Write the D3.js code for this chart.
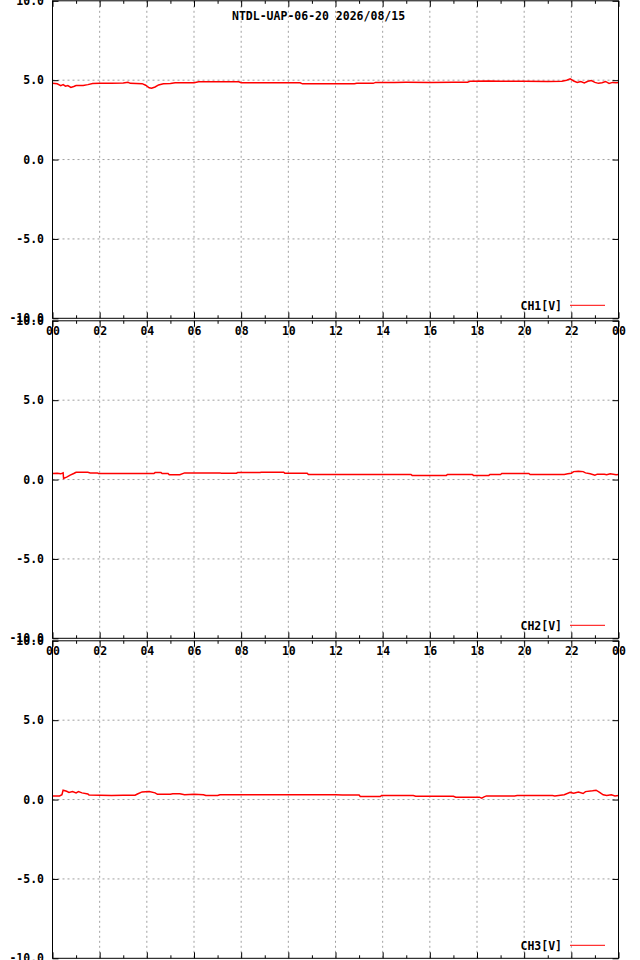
<!DOCTYPE html>
<html>
<head>
<meta charset="utf-8">
<script src="https://cdn.jsdelivr.net/npm/d3@7"></script>
<style>
  body { margin: 0; background: #fff; }
  text { font-family: 'DejaVu Sans Mono', 'Liberation Mono', monospace; font-weight: bold; font-size: 11.5px; }
</style>
</head>
<body>
<script>
let w = 640;
let h = 960;

let title = 'NTDL-UAP-06-20 2026/08/15';
let channels = ['CH1[V]', 'CH2[V]', 'CH3[V]'];
let yTicks = [-10, -5, 0, 5, 10];
let xMajor = [0, 2, 4, 6, 8, 10, 12, 14, 16, 18, 20, 22, 24];
let xMinor = [1, 3, 5, 7, 9, 11, 13, 15, 17, 19, 21, 23];

// hours of day, volts
let hours1 = [0.0, 0.2, 0.35, 0.45, 0.55, 0.65, 0.78, 0.9, 1.0, 1.3, 1.5, 1.7, 2.0, 2.5, 3.0, 3.2, 3.3, 3.8, 3.95, 4.1,
  4.2, 4.35, 4.5, 4.7, 5.0, 5.2, 6.0, 6.2, 7.9, 8.0, 10.5, 10.6, 12.2, 12.8, 12.9, 13.6, 13.7, 14.5, 15.0, 16.0,
  17.0, 17.6, 17.7, 18.5, 19.0, 20.0, 21.0, 21.6, 21.8, 21.95, 22.1, 22.25, 22.4, 22.55, 22.7, 22.85, 23.0, 23.15,
  23.3, 23.45, 23.6, 23.75, 23.9, 24.0];
let ch1 = [4.80, 4.77, 4.66, 4.72, 4.62, 4.66, 4.54, 4.60, 4.66, 4.66, 4.72, 4.79, 4.80, 4.80, 4.82, 4.87, 4.80, 4.78, 4.68, 4.52,
  4.49, 4.57, 4.70, 4.77, 4.79, 4.83, 4.84, 4.90, 4.90, 4.84, 4.84, 4.77, 4.77, 4.77, 4.80, 4.80, 4.86, 4.86, 4.87, 4.86,
  4.87, 4.87, 4.93, 4.95, 4.93, 4.93, 4.92, 4.93, 5.00, 5.08, 4.95, 4.86, 4.92, 4.83, 4.93, 4.98, 4.86, 4.80,
  4.84, 4.92, 4.80, 4.86, 4.84, 4.86];

let hours2 = [0.0, 0.2, 0.35, 0.45, 0.47, 0.6, 0.75, 0.9, 1.0, 1.5, 1.6, 1.9, 1.95, 4.3, 4.35, 4.6, 4.65, 4.9, 4.95, 5.4,
  5.6, 7.1, 7.15, 7.8, 7.85, 8.8, 8.85, 9.8, 9.85, 10.8, 10.85, 15.2, 15.25, 16.7, 16.75, 17.8, 17.85, 18.5, 18.55, 19.0,
  19.05, 20.2, 20.25, 21.7, 21.85, 22.0, 22.1, 22.3, 22.5, 22.6, 22.8, 23.0, 23.1, 23.4, 23.5, 23.65, 23.9, 24.0];
let ch2 = [0.38, 0.40, 0.36, 0.42, 0.07, 0.15, 0.28, 0.38, 0.46, 0.46, 0.42, 0.42, 0.38, 0.38, 0.44, 0.44, 0.38, 0.38, 0.30, 0.30,
  0.42, 0.42, 0.40, 0.40, 0.44, 0.44, 0.46, 0.46, 0.40, 0.40, 0.32, 0.32, 0.26, 0.26, 0.32, 0.32, 0.26, 0.26, 0.32, 0.32,
  0.38, 0.38, 0.32, 0.32, 0.36, 0.40, 0.50, 0.53, 0.50, 0.42, 0.36, 0.28, 0.34, 0.34, 0.30, 0.36, 0.30, 0.32];

let hours3 = [0.0, 0.3, 0.4, 0.45, 0.6, 0.7, 0.85, 1.0, 1.1, 1.25, 1.5, 1.55, 2.5, 3.0, 3.5, 3.6, 3.8, 4.1, 4.35, 4.45,
  5.0, 5.1, 5.4, 5.6, 6.0, 6.4, 6.5, 7.0, 7.1, 12.0, 12.3, 13.0, 13.05, 13.9, 13.95, 15.3, 15.4, 17.0, 17.1, 18.1,
  18.2, 18.3, 18.4, 19.6, 19.7, 21.2, 21.3, 21.7, 21.95, 22.1, 22.3, 22.5, 22.6, 22.9, 23.05, 23.2, 23.35, 23.5, 23.7,
  23.85, 24.0];
let ch3 = [0.23, 0.23, 0.30, 0.59, 0.52, 0.45, 0.50, 0.42, 0.50, 0.42, 0.35, 0.28, 0.25, 0.27, 0.27, 0.35, 0.48, 0.50, 0.42, 0.33,
  0.33, 0.37, 0.37, 0.30, 0.33, 0.30, 0.25, 0.25, 0.30, 0.30, 0.28, 0.28, 0.19, 0.19, 0.25, 0.25, 0.21, 0.21, 0.15, 0.15,
  0.09, 0.17, 0.23, 0.23, 0.25, 0.25, 0.23, 0.30, 0.45, 0.40, 0.48, 0.38, 0.50, 0.55, 0.59, 0.45, 0.30, 0.25, 0.30,
  0.23, 0.25];

let series = [
  { name: channels[0], hours: hours1, values: ch1 },
  { name: channels[1], hours: hours2, values: ch2 },
  { name: channels[2], hours: hours3, values: ch3 }
];

let left = 52.5;
let right = 618.5;
let panelStep = 320;
let panelTop = 0.8;
let panelH = 317.5;

let xScale = d3.scaleLinear()
  .domain([0, 24])
  .range([left, right]);

let svg = d3.select('body')
  .append('svg')
  .attr('width', w)
  .attr('height', h);

svg.append('rect')
  .attr('width', w)
  .attr('height', h)
  .attr('fill', '#fff');

let fmtHour = (d) => { return d3.format('02')(d % 24); };
// gnuplot prints a plain hyphen, not the unicode minus d3.format gives
let fmtVolt = (d) => { return d.toFixed(1); };

series.forEach((s, i) => {
  let top = panelTop + i * panelStep;
  let yScale = d3.scaleLinear()
    .domain([-10, 10])
    .range([top + panelH, top]);

  let g = svg.append('g');

  // grid
  g.selectAll('.vgrid')
    .data(xMajor.slice(1, -1))
    .enter()
    .append('line')
    .attr('x1', (d) => { return xScale(d); })
    .attr('x2', (d) => { return xScale(d); })
    .attr('y1', top)
    .attr('y2', top + panelH)
    .attr('stroke', '#a0a0a0')
    .attr('stroke-dasharray', '2,3');
  g.selectAll('.hgrid')
    .data(yTicks.slice(1, -1))
    .enter()
    .append('line')
    .attr('x1', left)
    .attr('x2', right)
    .attr('y1', (d) => { return yScale(d); })
    .attr('y2', (d) => { return yScale(d); })
    .attr('stroke', '#a0a0a0')
    .attr('stroke-dasharray', '2,3');

  // data
  let line = d3.line()
    .x((d) => { return xScale(d[0]); })
    .y((d) => { return yScale(d[1]); });
  g.append('path')
    .datum(d3.zip(s.hours, s.values))
    .attr('d', line)
    .attr('fill', 'none')
    .attr('stroke', '#ff0000')
    .attr('stroke-width', 1.5);

  // axes, ticks pointing inward
  g.append('g')
    .attr('transform', 'translate(0,' + (top + panelH) + ')')
    .call(d3.axisBottom(xScale).tickValues(xMajor).tickFormat(fmtHour).tickSize(-6).tickPadding(9));
  g.append('g')
    .attr('transform', 'translate(0,' + (top + panelH) + ')')
    .call(d3.axisBottom(xScale).tickValues(xMinor).tickFormat('').tickSize(-3));
  g.append('g')
    .attr('transform', 'translate(0,' + top + ')')
    .call(d3.axisTop(xScale).tickValues(xMajor).tickFormat('').tickSize(-6));
  g.append('g')
    .attr('transform', 'translate(0,' + top + ')')
    .call(d3.axisTop(xScale).tickValues(xMinor).tickFormat('').tickSize(-3));
  g.append('g')
    .attr('transform', 'translate(' + left + ',0)')
    .call(d3.axisLeft(yScale).tickValues(yTicks).tickFormat(fmtVolt).tickSize(-6).tickPadding(8.5));
  g.append('g')
    .attr('transform', 'translate(' + right + ',0)')
    .call(d3.axisRight(yScale).tickValues(yTicks).tickFormat('').tickSize(-6));

  g.selectAll('.domain').remove();
  g.selectAll('.tick line').attr('stroke', '#000');
  g.selectAll('.tick text')
    .attr('fill', '#000')
    .attr('font-family', null)
    .attr('font-size', null);

  g.append('rect')
    .attr('x', left)
    .attr('y', top)
    .attr('width', right - left)
    .attr('height', panelH)
    .attr('fill', 'none')
    .attr('stroke', '#000');

  // legend
  g.append('text')
    .attr('x', 562)
    .attr('y', top + panelH - 8.5)
    .attr('text-anchor', 'end')
    .text(s.name);
  g.append('line')
    .attr('x1', 570)
    .attr('x2', 605)
    .attr('y1', top + panelH - 13)
    .attr('y2', top + panelH - 13)
    .attr('stroke', '#ff0000');
});

svg.append('text')
  .attr('x', 232)
  .attr('y', 20)
  .text(title);
</script>
</body>
</html>
